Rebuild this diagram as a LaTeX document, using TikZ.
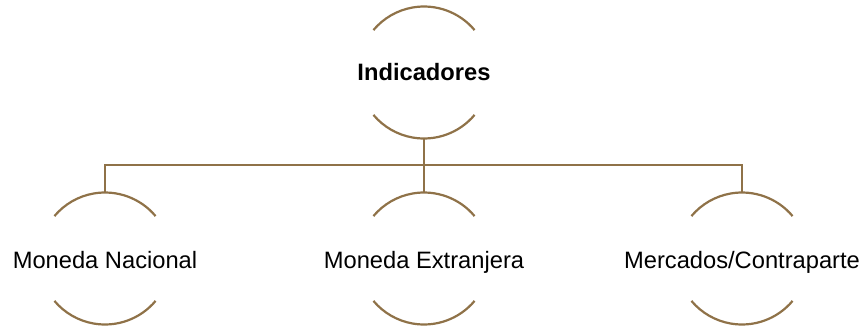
\documentclass[tikz,border=0pt]{standalone}
\usepackage{fontspec}
\setmainfont{Liberation Sans}
\definecolor{brn}{RGB}{143,114,72}
\begin{document}
\begin{tikzpicture}[x=1pt,y=-1pt,
  arcline/.style={draw=brn,line width=2.2pt},
  conn/.style={draw=brn,line width=2.2pt},
  lbl/.style={inner sep=0pt,anchor=base,font=\fontsize{23.7}{28}\selectfont,text=black}]
\useasboundingbox (0,0) rectangle (863,325);
% nodes
\node[lbl,font=\fontsize{23.7}{28}\selectfont\bfseries] (top) at (424,80.5) {Indicadores};
\node[lbl] (c1) at (105,268) {Moneda Nacional};
\node[lbl] (c2) at (424,268) {Moneda Extranjera};
\node[lbl] (c3) at (742,268) {Mercados/Contraparte};
% circle centres
\coordinate (k0) at (424,72.5);
\coordinate (k1) at (105,258.5);
\coordinate (k2) at (424,258.5);
\coordinate (k3) at (742,258.5);
\foreach \k in {k0,k1,k2,k3}{
  \draw[arcline] (\k) ++(-40:66) arc[start angle=-40,end angle=-140,radius=66];
  \draw[arcline] (\k) ++(40:66) arc[start angle=40,end angle=140,radius=66];
}
% connector points
\coordinate (t0) at (424,138.5);
\coordinate (bus) at (424,165);
\coordinate (t1) at (105,192.5);
\coordinate (t2) at (424,192.5);
\coordinate (t3) at (742,192.5);
\draw[conn] (t0) -- (bus);
\draw[conn] (bus) -| (t1);
\draw[conn] (bus) -- (t2);
\draw[conn] (bus) -| (t3);
\end{tikzpicture}
\end{document}
